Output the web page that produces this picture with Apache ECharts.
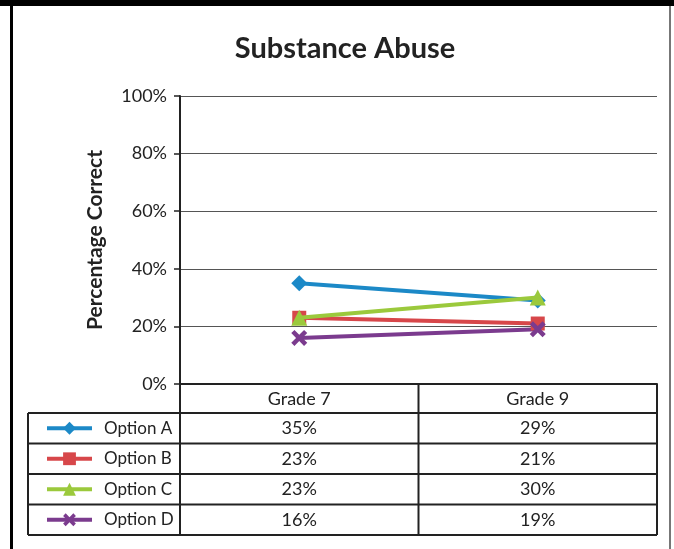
<!DOCTYPE html>
<html>
<head>
<meta charset="utf-8">
<script src="https://cdn.jsdelivr.net/npm/echarts@6/dist/echarts.min.js"></script>
<style>
  html, body { margin: 0; padding: 0; background: #fff; }
  #chart { width: 674px; height: 549px; }
</style>
</head>
<body>
<div id="chart"></div>
<script>
const grades = ['Grade 7', 'Grade 9'];
const optionNames = ['Option A', 'Option B', 'Option C', 'Option D'];
const optionA = [35, 29];
const optionB = [23, 21];
const optionC = [23, 30];
const optionD = [16, 19];

const seriesValues = [optionA, optionB, optionC, optionD];
const colors = ['#1c89c7', '#d7474a', '#9bc93c', '#7b3b8e'];
const crossPath = 'path://M0,2 L2,0 L5,3 L8,0 L10,2 L7,5 L10,8 L8,10 L5,7 L2,10 L0,8 L3,5 Z';
const symbols = ['diamond', 'rect', 'triangle', crossPath];
const symbolSizes = [16, 14, 16, 16];

const FONT = 'Lato, "Open Sans", sans-serif';
const INK = '#222';

// layout of the plot, table hangs below it
const gridLeft = 180, gridRight = 17, gridTop = 96, gridBottom = 165;
const W = 674, H = 549;
const axisY = H - gridBottom;
const headerH = 29, rowH = 30.5, tableLeft = 28;

const chart = echarts.init(document.getElementById('chart'));

// one legend per table row so each key sits in its own cell
const legends = optionNames.map((name, i) => ({
  orient: 'vertical',
  left: 45,
  top: axisY + headerH + rowH * i + rowH / 2 - 9,
  itemWidth: 45,
  itemHeight: 16,
  padding: 0,
  lineStyle: { width: 4 },
  textStyle: { fontFamily: FONT, fontSize: 17, lineHeight: 18, color: INK, padding: [0, 0, 0, 7] },
  data: [name]
}));

chart.setOption({
  backgroundColor: '#fff',
  animation: false,
  color: colors,
  title: {
    text: 'Substance Abuse',
    left: 340,
    textAlign: 'center',
    top: 29,
    textStyle: { fontFamily: FONT, fontSize: 29, fontWeight: 'bold', color: INK }
  },
  grid: { left: gridLeft, right: gridRight, top: gridTop, bottom: gridBottom },
  legend: legends,
  xAxis: {
    type: 'category',
    data: grades,
    boundaryGap: true,
    axisLine: { lineStyle: { color: INK, width: 2 } },
    axisTick: { show: false },
    axisLabel: { fontFamily: FONT, fontSize: 18, color: INK, margin: 6 }
  },
  yAxis: {
    type: 'value',
    min: 0,
    max: 100,
    interval: 20,
    name: 'Percentage Correct',
    nameLocation: 'middle',
    nameGap: 74,
    nameTextStyle: { fontFamily: FONT, fontSize: 21, fontWeight: 'bold', color: INK },
    axisLine: { show: true, lineStyle: { color: INK, width: 2 } },
    axisTick: { show: true, length: 6, lineStyle: { color: INK, width: 1.5 } },
    axisLabel: { fontFamily: FONT, fontSize: 18, color: INK, margin: 13, formatter: '{value}%' },
    splitLine: { lineStyle: { color: '#555', width: 1 } }
  },
  series: optionNames.map((name, i) => ({
    name,
    type: 'line',
    data: seriesValues[i],
    symbol: symbols[i],
    symbolSize: symbolSizes[i],
    lineStyle: { width: 4, color: colors[i] },
    itemStyle: { color: colors[i] },
    z: 3 + (i === 2 ? 1 : 0)
  }))
});

// data table under the plot, built from the same arrays
function buildTable() {
  const colCenters = grades.map(g => chart.convertToPixel({ xAxisIndex: 0 }, g));
  const right = W - gridRight;
  const colEdges = [gridLeft, (colCenters[0] + colCenters[1]) / 2, right];
  const bottom = axisY + headerH + rowH * optionNames.length;
  const line = (x1, y1, x2, y2) => ({
    type: 'line', silent: true, z: 10,
    shape: { x1, y1, x2, y2 },
    style: { stroke: INK, lineWidth: 2 }
  });
  const text = (x, y, t) => ({
    type: 'text', silent: true, z: 10, x, y,
    style: { text: t, fontFamily: FONT, fontSize: 18, fill: INK, align: 'center', verticalAlign: 'middle' }
  });

  const els = [];
  // frame
  els.push({ type: 'rect', silent: true, shape: { x: 0, y: 0, width: W, height: 6 }, style: { fill: '#000' } });
  els.push({ type: 'rect', silent: true, shape: { x: 10, y: 6, width: 3, height: H - 6 }, style: { fill: '#000' } });
  els.push({ type: 'rect', silent: true, shape: { x: 669, y: 6, width: 2, height: H - 6 }, style: { fill: '#777' } });

  // table rules
  for (let r = 0; r <= optionNames.length; r++) {
    const y = axisY + headerH + r * rowH;
    els.push(line(tableLeft, y, right, y));
  }
  els.push(line(tableLeft, axisY + headerH, tableLeft, bottom));
  colEdges.forEach(x => els.push(line(x, axisY, x, bottom)));

  // values
  seriesValues.forEach((vals, r) => {
    const cy = axisY + headerH + r * rowH + rowH / 2;
    vals.forEach((v, c) => els.push(text(colCenters[c], cy, v + '%')));
  });

  chart.setOption({ graphic: { elements: els } });
}
buildTable();
</script>
</body>
</html>
